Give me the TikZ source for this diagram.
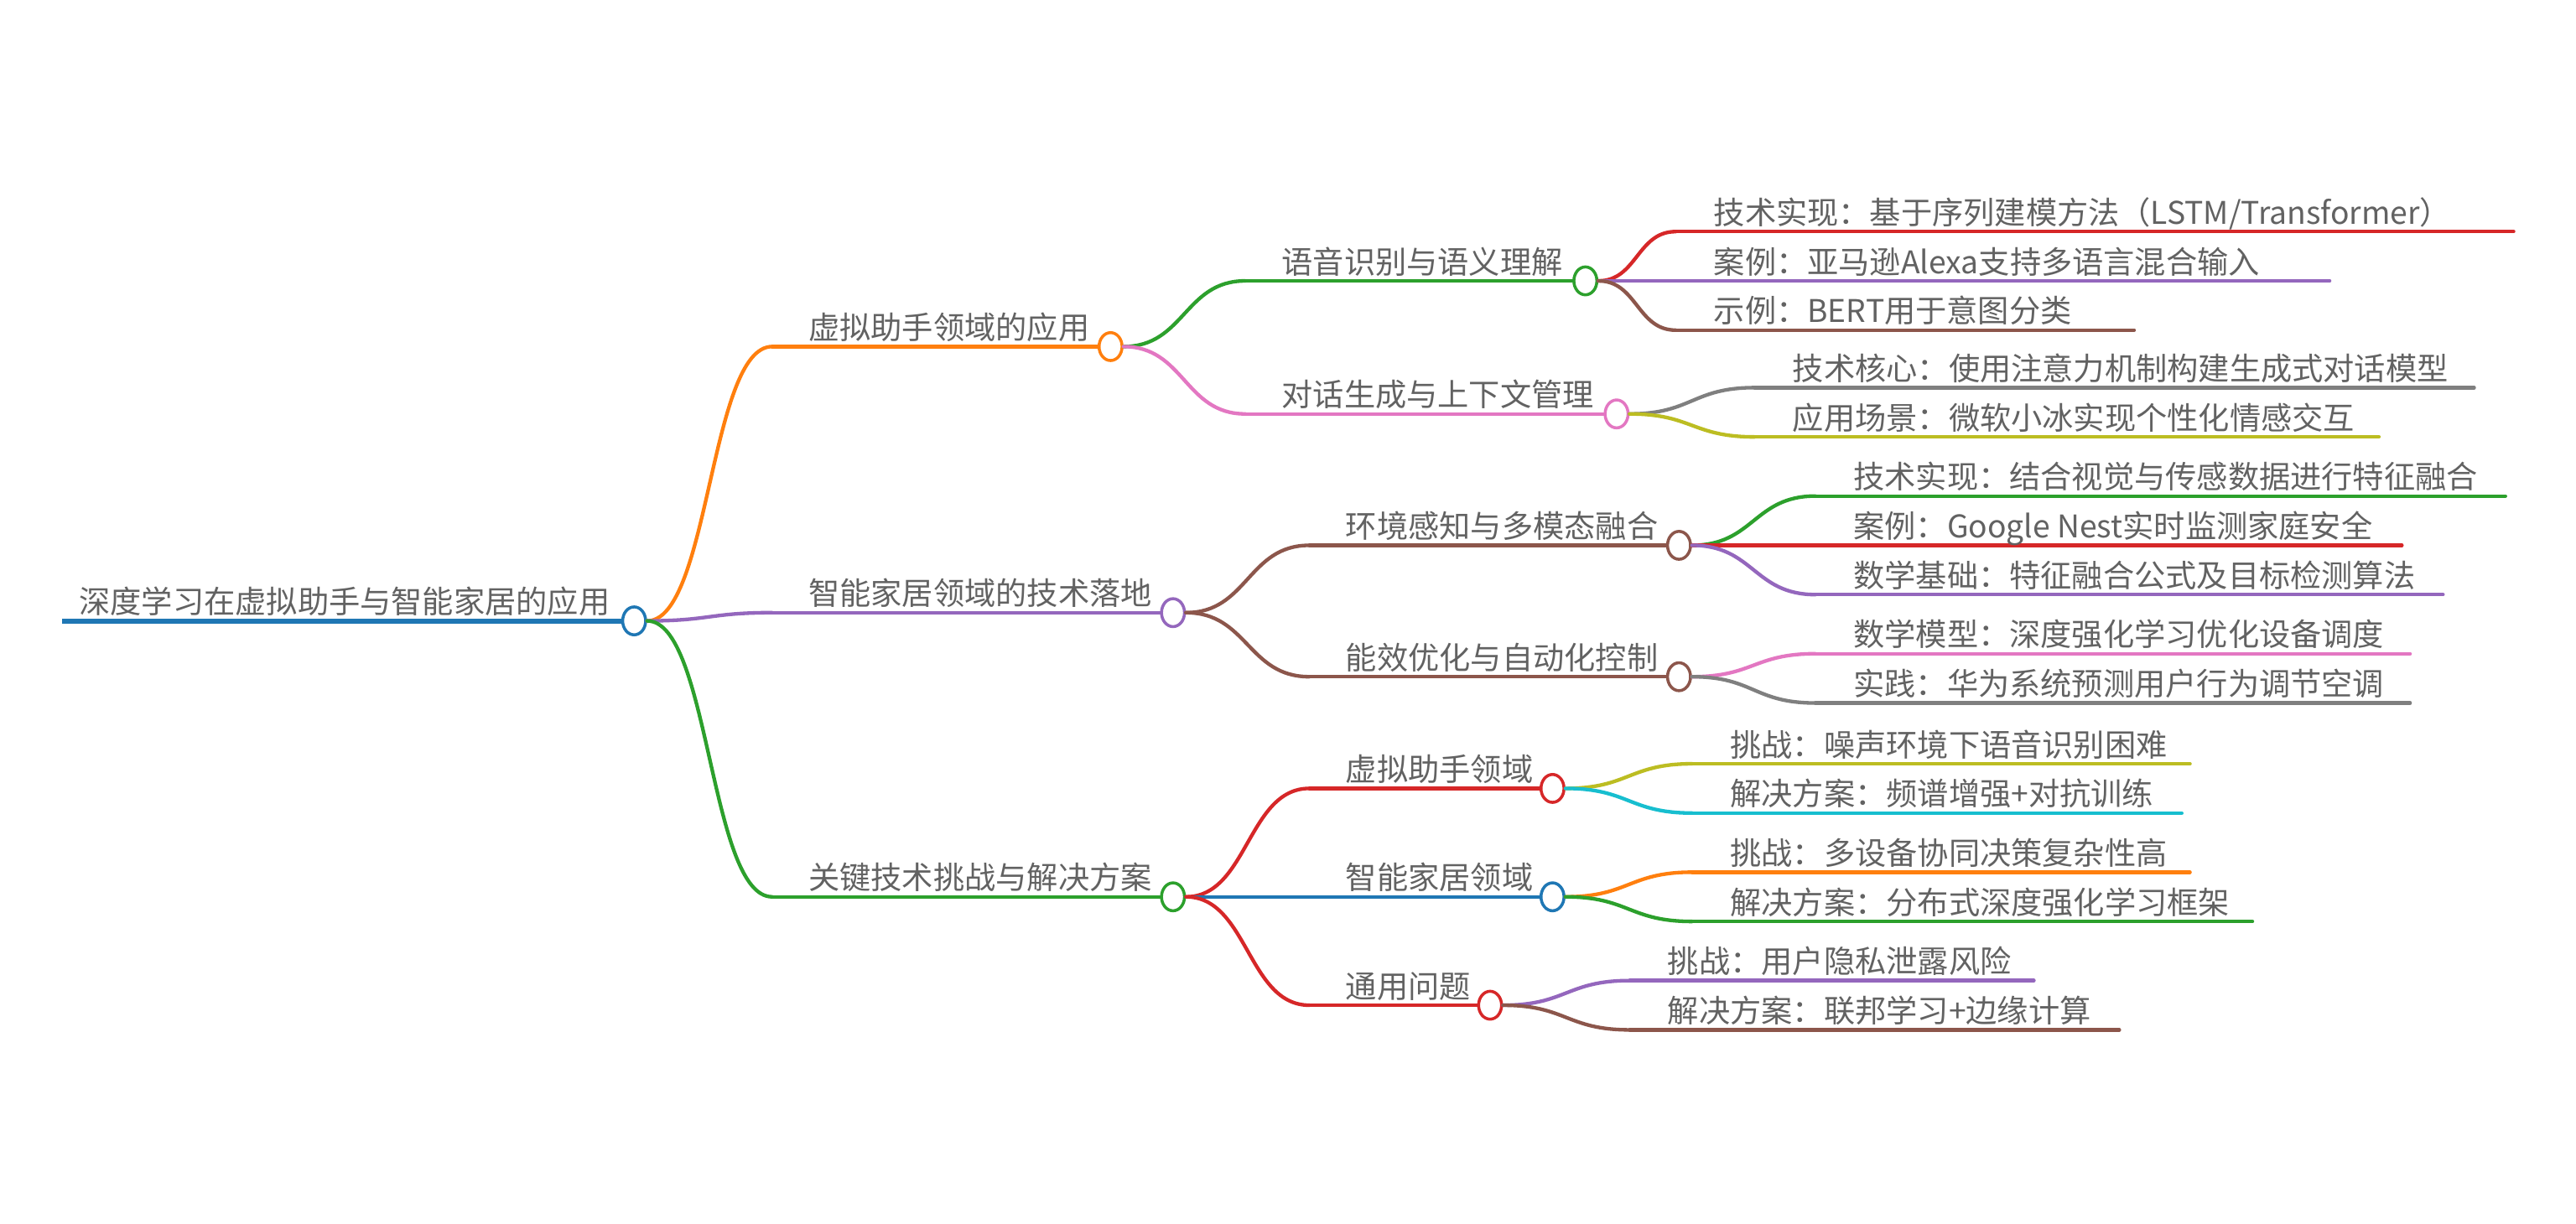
\documentclass[tikz,border=0pt]{standalone}
\usepackage{fontspec}
\setmainfont{Noto Sans CJK SC}
\usetikzlibrary{shapes.geometric,calc}
\definecolor{cBlue}{HTML}{1F77B4}
\definecolor{cOrange}{HTML}{FF7F0E}
\definecolor{cGreen}{HTML}{2CA02C}
\definecolor{cRed}{HTML}{D62728}
\definecolor{cPurple}{HTML}{9467BD}
\definecolor{cBrown}{HTML}{8C564B}
\definecolor{cPink}{HTML}{E377C2}
\definecolor{cGray}{HTML}{7F7F7F}
\definecolor{cOlive}{HTML}{BCBD22}
\definecolor{cCyan}{HTML}{17BECF}
\definecolor{txt}{HTML}{626262}
\newcommand\mmcurve[3]{% from, to, color
  \draw[br,#3] let \p1=(#1.east), \p2=(#2) in
    (\p1) .. controls (\x1*0.5+\x2*0.5,\y1) and (\x1*0.5+\x2*0.5,\y2) .. (\p2);
}
\newcommand\mmmid[7]{% name, parent, xs, y, cx, color, text
  \coordinate (#1-s) at (#3,#4);
  \node[dot,draw=#6] (#1-dot) at (#5,#4) {};
  \mmcurve{#2}{#1-s}{#6}
  \draw[br,#6] (#1-s) -- (#1-dot.west);
  \node[lbl] (#1) at (#3+22,#4-4.5) {#7};
}
\newcommand\mmleaf[7]{% name, parent, xs, y, xe, color, text
  \coordinate (#1-s) at (#3,#4);
  \coordinate (#1-e) at (#5,#4);
  \mmcurve{#2}{#1-s}{#6}
  \draw[br,#6] (#1-s) -- (#1-e);
  \node[lbl] (#1) at (#3+23,#4-4.5) {#7};
}
\begin{document}
\begin{tikzpicture}[x=1pt,y=-1pt,
  lbl/.style={anchor=base west,inner sep=0pt,text=txt,font=\fontsize{19}{21}\selectfont},
  dot/.style={ellipse,minimum width=14pt,minimum height=17pt,inner sep=0pt,line width=1.8pt,fill=white},
  br/.style={line width=2.2pt,line cap=round}]
\useasboundingbox[fill=white] (0,0) rectangle (1568,745);
% root
\coordinate (root-s) at (38,378);
\node[dot,draw=cBlue] (root-dot) at (386,378) {};
\draw[cBlue,line width=3pt] (root-s) -- (root-dot.west);
\node[lbl] (root) at (48,373.5) {深度学习在虚拟助手与智能家居的应用};
% level 1
\mmmid{A}{root-dot}{470}{211}{676}{cOrange}{虚拟助手领域的应用}
\mmmid{B}{root-dot}{470}{373}{714}{cPurple}{智能家居领域的技术落地}
\mmmid{C}{root-dot}{470}{546}{714}{cGreen}{关键技术挑战与解决方案}
% level 2
\mmmid{A1}{A-dot}{758}{171}{965}{cGreen}{语音识别与语义理解}
\mmmid{A2}{A-dot}{758}{252}{984}{cPink}{对话生成与上下文管理}
\mmmid{B1}{B-dot}{797}{332}{1022}{cBrown}{环境感知与多模态融合}
\mmmid{B2}{B-dot}{797}{412}{1022}{cBrown}{能效优化与自动化控制}
\mmmid{C1}{C-dot}{797}{480}{945}{cRed}{虚拟助手领域}
\mmmid{C2}{C-dot}{797}{546}{945}{cBlue}{智能家居领域}
\mmmid{C3}{C-dot}{797}{612}{907}{cRed}{通用问题}
% level 3
\mmleaf{A11}{A1-dot}{1020}{141}{1530}{cRed}{技术实现：基于序列建模方法（LSTM/Transformer）}
\mmleaf{A12}{A1-dot}{1020}{171}{1418}{cPurple}{案例：亚马逊Alexa支持多语言混合输入}
\mmleaf{A13}{A1-dot}{1020}{201}{1299}{cBrown}{示例：BERT用于意图分类}
\mmleaf{A21}{A2-dot}{1068}{236}{1506}{cGray}{技术核心：使用注意力机制构建生成式对话模型}
\mmleaf{A22}{A2-dot}{1068}{266}{1448}{cOlive}{应用场景：微软小冰实现个性化情感交互}
\mmleaf{B11}{B1-dot}{1105}{302}{1525}{cGreen}{技术实现：结合视觉与传感数据进行特征融合}
\mmleaf{B12}{B1-dot}{1105}{332}{1462}{cRed}{案例：Google Nest实时监测家庭安全}
\mmleaf{B13}{B1-dot}{1105}{362}{1487}{cPurple}{数学基础：特征融合公式及目标检测算法}
\mmleaf{B21}{B2-dot}{1105}{398}{1467}{cPink}{数学模型：深度强化学习优化设备调度}
\mmleaf{B22}{B2-dot}{1105}{428}{1467}{cGray}{实践：华为系统预测用户行为调节空调}
\mmleaf{C11}{C1-dot}{1030}{465}{1333}{cOlive}{挑战：噪声环境下语音识别困难}
\mmleaf{C12}{C1-dot}{1030}{495}{1328}{cCyan}{解决方案：频谱增强+对抗训练}
\mmleaf{C21}{C2-dot}{1030}{531}{1333}{cOrange}{挑战：多设备协同决策复杂性高}
\mmleaf{C22}{C2-dot}{1030}{561}{1371}{cGreen}{解决方案：分布式深度强化学习框架}
\mmleaf{C31}{C3-dot}{992}{597}{1238}{cPurple}{挑战：用户隐私泄露风险}
\mmleaf{C32}{C3-dot}{992}{627}{1290}{cBrown}{解决方案：联邦学习+边缘计算}
\end{tikzpicture}
\end{document}
